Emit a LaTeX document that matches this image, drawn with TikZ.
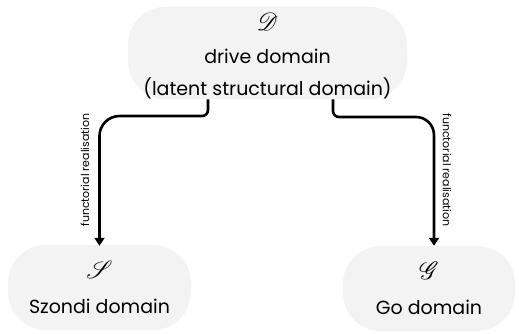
\documentclass[tikz,border=0pt]{standalone}
\usepackage{fontspec}
\usepackage{mathrsfs}
\setmainfont{Poppins}
\usetikzlibrary{arrows.meta}

\definecolor{domfill}{HTML}{F3F3F3}
\newcommand{\domsym}[1]{{\fontsize{25}{25}\selectfont$\mathscr{#1}$}}

\begin{document}
\begin{tikzpicture}[x=1pt,y=-1pt]
				\tikzstyle{every node}=[inner sep=0pt,align=center]
				\tikzstyle{domainbox}=[fill=domfill,rounded corners=38pt,
				font=\fontsize{19}{32.5}\selectfont]
				\tikzstyle{realise}=[line width=2.6pt,-{Triangle[length=8pt,width=10pt]}]
				\tikzstyle{realiselabel}=[font=\fontsize{11}{12}\selectfont]
				\useasboundingbox (0,0) rectangle (519,333);
				% domains
				\node[domainbox,minimum width=279pt,minimum height=92pt] (drive) at (267.5,53)
				{\rule{0pt}{24pt}\domsym{D}\\drive domain\\(latent structural domain)};
				\node[domainbox,minimum width=183pt,minimum height=85pt] (szondi) at (99.5,287.5)
				{\domsym{S}\\[3pt]Szondi domain};
				\node[domainbox,minimum width=172pt,minimum height=85pt] (go) at (429,288.5)
				{\domsym{G}\\[3pt]Go domain};
				% functorial realisations
				\coordinate (lbend) at (208,116);
				\coordinate (rbend) at (333,117);
				\coordinate (rdrop) at (434,117);
				\draw[realise] (drive.south -| lbend) [rounded corners=6pt] -- (lbend)
					[rounded corners=20pt] -- (lbend -| szondi.north) -- ([yshift=-1pt]szondi.north);
				\draw[realise] (drive.south -| rbend) [rounded corners=6pt] -- (rbend)
					[rounded corners=18pt] -- (rdrop) -- (rdrop |- go.north);
				\node[realiselabel,rotate=90] (lreal) at (85,170) {functorial realisation};
				\node[realiselabel,rotate=-90] (rreal) at (447,170) {functorial realisation};
\end{tikzpicture}
\end{document}
